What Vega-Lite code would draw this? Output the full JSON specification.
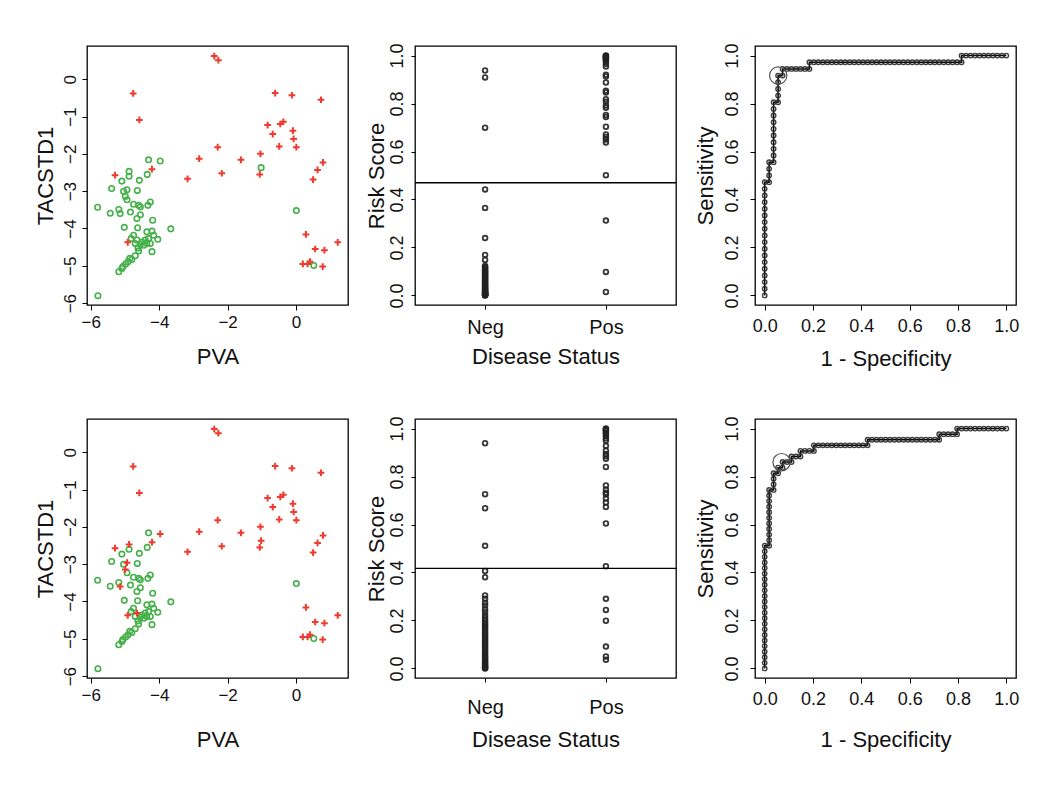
{
"$schema": "https://vega.github.io/schema/vega-lite/v6.json",
"background": "white",
"padding": {"left": 33, "top": 42, "right": 5, "bottom": 5},
"config": {
  "view": {"stroke": "black", "strokeWidth": 1.3},
  "font": "Liberation Sans",
  "axis": {"domain": false, "grid": false, "ticks": true, "tickColor": "black", "tickSize": 5, "tickWidth": 1, "labelFont": "Liberation Sans", "labelFontSize": 18, "labelColor": "#111", "labelFlush": false, "labelOverlap": false, "titleFont": "Liberation Sans", "titleFontSize": 22, "titleFontWeight": "normal", "titleColor": "#111"},
  "axisY": {"labelAngle": -90}
},
"datasets": {
  "pts": [
    {"pva": -2.39, "tac": 0.62, "c1": "Pos", "c2": "Pos"},
    {"pva": -2.27, "tac": 0.51, "c1": "Pos", "c2": "Pos"},
    {"pva": -4.76, "tac": -0.38, "c1": "Pos", "c2": "Pos"},
    {"pva": -4.58, "tac": -1.09, "c1": "Pos", "c2": "Pos"},
    {"pva": -0.61, "tac": -0.37, "c1": "Pos", "c2": "Pos"},
    {"pva": -0.12, "tac": -0.43, "c1": "Pos", "c2": "Pos"},
    {"pva": 0.73, "tac": -0.55, "c1": "Pos", "c2": "Pos"},
    {"pva": -0.83, "tac": -1.23, "c1": "Pos", "c2": "Pos"},
    {"pva": -0.68, "tac": -1.47, "c1": "Pos", "c2": "Pos"},
    {"pva": -0.46, "tac": -1.2, "c1": "Pos", "c2": "Pos"},
    {"pva": -0.37, "tac": -1.14, "c1": "Pos", "c2": "Pos"},
    {"pva": -0.09, "tac": -1.38, "c1": "Pos", "c2": "Pos"},
    {"pva": -0.07, "tac": -1.6, "c1": "Pos", "c2": "Pos"},
    {"pva": 0.01, "tac": -1.82, "c1": "Pos", "c2": "Pos"},
    {"pva": -0.49, "tac": -1.8, "c1": "Pos", "c2": "Pos"},
    {"pva": -2.29, "tac": -1.82, "c1": "Pos", "c2": "Pos"},
    {"pva": -1.04, "tac": -2.0, "c1": "Pos", "c2": "Pos"},
    {"pva": -1.61, "tac": -2.16, "c1": "Pos", "c2": "Pos"},
    {"pva": -2.83, "tac": -2.13, "c1": "Pos", "c2": "Pos"},
    {"pva": -2.17, "tac": -2.52, "c1": "Pos", "c2": "Pos"},
    {"pva": -3.17, "tac": -2.67, "c1": "Pos", "c2": "Pos"},
    {"pva": -1.06, "tac": -2.55, "c1": "Pos", "c2": "Pos"},
    {"pva": 0.79, "tac": -2.23, "c1": "Pos", "c2": "Pos"},
    {"pva": 0.63, "tac": -2.43, "c1": "Pos", "c2": "Pos"},
    {"pva": 0.5, "tac": -2.69, "c1": "Pos", "c2": "Pos"},
    {"pva": -4.21, "tac": -2.41, "c1": "Pos", "c2": "Pos"},
    {"pva": -5.29, "tac": -2.57, "c1": "Pos", "c2": "Pos"},
    {"pva": -4.92, "tac": -4.37, "c1": "Pos", "c2": "Pos"},
    {"pva": 0.29, "tac": -4.16, "c1": "Pos", "c2": "Pos"},
    {"pva": 0.56, "tac": -4.55, "c1": "Pos", "c2": "Pos"},
    {"pva": 0.83, "tac": -4.58, "c1": "Pos", "c2": "Pos"},
    {"pva": 1.22, "tac": -4.37, "c1": "Pos", "c2": "Pos"},
    {"pva": 0.2, "tac": -4.95, "c1": "Pos", "c2": "Pos"},
    {"pva": 0.34, "tac": -4.95, "c1": "Pos", "c2": "Pos"},
    {"pva": 0.41, "tac": -4.89, "c1": "Pos", "c2": "Pos"},
    {"pva": 0.78, "tac": -5.02, "c1": "Pos", "c2": "Pos"},
    {"pva": -1.02, "tac": -2.37, "c1": "Neg", "c2": "Pos"},
    {"pva": 0.01, "tac": -3.52, "c1": "Neg", "c2": "Neg"},
    {"pva": 0.52, "tac": -4.99, "c1": "Neg", "c2": "Neg"},
    {"pva": -4.31, "tac": -2.16, "c1": "Neg", "c2": "Neg"},
    {"pva": -3.97, "tac": -2.19, "c1": "Neg", "c2": "Pos"},
    {"pva": -4.88, "tac": -2.47, "c1": "Neg", "c2": "Pos"},
    {"pva": -4.88, "tac": -2.6, "c1": "Neg", "c2": "Neg"},
    {"pva": -4.35, "tac": -2.55, "c1": "Neg", "c2": "Neg"},
    {"pva": -4.58, "tac": -2.71, "c1": "Neg", "c2": "Neg"},
    {"pva": -5.09, "tac": -2.73, "c1": "Neg", "c2": "Neg"},
    {"pva": -5.39, "tac": -2.93, "c1": "Neg", "c2": "Neg"},
    {"pva": -4.94, "tac": -2.96, "c1": "Neg", "c2": "Pos"},
    {"pva": -5.04, "tac": -3.0, "c1": "Neg", "c2": "Neg"},
    {"pva": -4.64, "tac": -2.98, "c1": "Neg", "c2": "Neg"},
    {"pva": -4.99, "tac": -3.14, "c1": "Neg", "c2": "Pos"},
    {"pva": -4.94, "tac": -3.23, "c1": "Neg", "c2": "Neg"},
    {"pva": -5.8, "tac": -3.43, "c1": "Neg", "c2": "Neg"},
    {"pva": -5.43, "tac": -3.59, "c1": "Neg", "c2": "Neg"},
    {"pva": -5.18, "tac": -3.49, "c1": "Neg", "c2": "Neg"},
    {"pva": -5.14, "tac": -3.6, "c1": "Neg", "c2": "Pos"},
    {"pva": -4.84, "tac": -3.56, "c1": "Neg", "c2": "Neg"},
    {"pva": -4.75, "tac": -3.35, "c1": "Neg", "c2": "Neg"},
    {"pva": -4.6, "tac": -3.38, "c1": "Neg", "c2": "Neg"},
    {"pva": -4.55, "tac": -3.42, "c1": "Neg", "c2": "Neg"},
    {"pva": -4.33, "tac": -3.38, "c1": "Neg", "c2": "Neg"},
    {"pva": -4.26, "tac": -3.29, "c1": "Neg", "c2": "Neg"},
    {"pva": -4.55, "tac": -3.63, "c1": "Neg", "c2": "Neg"},
    {"pva": -4.65, "tac": -3.73, "c1": "Neg", "c2": "Neg"},
    {"pva": -5.02, "tac": -3.97, "c1": "Neg", "c2": "Neg"},
    {"pva": -4.63, "tac": -3.98, "c1": "Neg", "c2": "Neg"},
    {"pva": -4.19, "tac": -3.78, "c1": "Neg", "c2": "Neg"},
    {"pva": -3.66, "tac": -4.01, "c1": "Neg", "c2": "Neg"},
    {"pva": -4.21, "tac": -4.07, "c1": "Neg", "c2": "Neg"},
    {"pva": -4.36, "tac": -4.09, "c1": "Neg", "c2": "Neg"},
    {"pva": -4.75, "tac": -4.18, "c1": "Neg", "c2": "Neg"},
    {"pva": -4.82, "tac": -4.27, "c1": "Neg", "c2": "Neg"},
    {"pva": -4.65, "tac": -4.31, "c1": "Neg", "c2": "Pos"},
    {"pva": -4.5, "tac": -4.36, "c1": "Neg", "c2": "Neg"},
    {"pva": -4.41, "tac": -4.31, "c1": "Neg", "c2": "Neg"},
    {"pva": -4.31, "tac": -4.27, "c1": "Neg", "c2": "Neg"},
    {"pva": -4.16, "tac": -4.18, "c1": "Neg", "c2": "Neg"},
    {"pva": -4.04, "tac": -4.29, "c1": "Neg", "c2": "Neg"},
    {"pva": -4.26, "tac": -4.4, "c1": "Neg", "c2": "Neg"},
    {"pva": -4.55, "tac": -4.42, "c1": "Neg", "c2": "Neg"},
    {"pva": -4.7, "tac": -4.4, "c1": "Neg", "c2": "Neg"},
    {"pva": -4.21, "tac": -4.62, "c1": "Neg", "c2": "Neg"},
    {"pva": -4.6, "tac": -4.6, "c1": "Neg", "c2": "Neg"},
    {"pva": -4.7, "tac": -4.73, "c1": "Neg", "c2": "Neg"},
    {"pva": -4.8, "tac": -4.83, "c1": "Neg", "c2": "Neg"},
    {"pva": -4.91, "tac": -4.89, "c1": "Neg", "c2": "Neg"},
    {"pva": -5.06, "tac": -5.02, "c1": "Neg", "c2": "Neg"},
    {"pva": -5.09, "tac": -5.07, "c1": "Neg", "c2": "Neg"},
    {"pva": -5.18, "tac": -5.16, "c1": "Neg", "c2": "Neg"},
    {"pva": -5.79, "tac": -5.8, "c1": "Neg", "c2": "Neg"},
    {"pva": -4.98, "tac": -4.95, "c1": "Neg", "c2": "Neg"},
    {"pva": -4.86, "tac": -4.8, "c1": "Neg", "c2": "Neg"},
    {"pva": -4.62, "tac": -4.52, "c1": "Neg", "c2": "Neg"},
    {"pva": -4.45, "tac": -4.45, "c1": "Neg", "c2": "Neg"},
    {"pva": -4.36, "tac": -4.4, "c1": "Neg", "c2": "Neg"}
  ],
  "strip1": [
    {"status": "Neg", "score": 0.938}, {"status": "Neg", "score": 0.909}, {"status": "Neg", "score": 0.699}, {"status": "Neg", "score": 0.442},
    {"status": "Neg", "score": 0.365}, {"status": "Neg", "score": 0.239}, {"status": "Neg", "score": 0.169}, {"status": "Neg", "score": 0.148},
    {"status": "Neg", "score": 0.123}, {"status": "Neg", "score": 0.118}, {"status": "Neg", "score": 0.113}, {"status": "Neg", "score": 0.108},
    {"status": "Neg", "score": 0.104}, {"status": "Neg", "score": 0.1}, {"status": "Neg", "score": 0.096}, {"status": "Neg", "score": 0.092},
    {"status": "Neg", "score": 0.088}, {"status": "Neg", "score": 0.084}, {"status": "Neg", "score": 0.08}, {"status": "Neg", "score": 0.076},
    {"status": "Neg", "score": 0.072}, {"status": "Neg", "score": 0.068}, {"status": "Neg", "score": 0.064}, {"status": "Neg", "score": 0.06},
    {"status": "Neg", "score": 0.056}, {"status": "Neg", "score": 0.052}, {"status": "Neg", "score": 0.048}, {"status": "Neg", "score": 0.044},
    {"status": "Neg", "score": 0.04}, {"status": "Neg", "score": 0.036}, {"status": "Neg", "score": 0.032}, {"status": "Neg", "score": 0.028},
    {"status": "Neg", "score": 0.024}, {"status": "Neg", "score": 0.02}, {"status": "Neg", "score": 0.017}, {"status": "Neg", "score": 0.014},
    {"status": "Neg", "score": 0.011}, {"status": "Neg", "score": 0.008}, {"status": "Neg", "score": 0.006}, {"status": "Neg", "score": 0.004},
    {"status": "Neg", "score": 0.002}, {"status": "Neg", "score": 0.001}, {"status": "Neg", "score": 0.0}, {"status": "Neg", "score": 0.003},
    {"status": "Neg", "score": 0.005}, {"status": "Neg", "score": 0.01}, {"status": "Neg", "score": 0.015}, {"status": "Neg", "score": 0.03},
    {"status": "Pos", "score": 1.0}, {"status": "Pos", "score": 0.998}, {"status": "Pos", "score": 0.996}, {"status": "Pos", "score": 0.993},
    {"status": "Pos", "score": 0.99}, {"status": "Pos", "score": 0.986}, {"status": "Pos", "score": 0.983}, {"status": "Pos", "score": 0.976},
    {"status": "Pos", "score": 0.966}, {"status": "Pos", "score": 0.955}, {"status": "Pos", "score": 0.92}, {"status": "Pos", "score": 0.913},
    {"status": "Pos", "score": 0.888}, {"status": "Pos", "score": 0.853}, {"status": "Pos", "score": 0.846}, {"status": "Pos", "score": 0.818},
    {"status": "Pos", "score": 0.808}, {"status": "Pos", "score": 0.792}, {"status": "Pos", "score": 0.783}, {"status": "Pos", "score": 0.752},
    {"status": "Pos", "score": 0.744}, {"status": "Pos", "score": 0.703}, {"status": "Pos", "score": 0.671}, {"status": "Pos", "score": 0.661},
    {"status": "Pos", "score": 0.65}, {"status": "Pos", "score": 0.638}, {"status": "Pos", "score": 0.501}, {"status": "Pos", "score": 0.312},
    {"status": "Pos", "score": 0.098}, {"status": "Pos", "score": 0.014}
  ],
  "strip2": [
    {"status": "Neg", "score": 0.939}, {"status": "Neg", "score": 0.726}, {"status": "Neg", "score": 0.668}, {"status": "Neg", "score": 0.511},
    {"status": "Neg", "score": 0.406}, {"status": "Neg", "score": 0.38}, {"status": "Neg", "score": 0.304}, {"status": "Neg", "score": 0.29},
    {"status": "Neg", "score": 0.274}, {"status": "Neg", "score": 0.262}, {"status": "Neg", "score": 0.247}, {"status": "Neg", "score": 0.235},
    {"status": "Neg", "score": 0.222}, {"status": "Neg", "score": 0.21}, {"status": "Neg", "score": 0.2}, {"status": "Neg", "score": 0.19},
    {"status": "Neg", "score": 0.183}, {"status": "Neg", "score": 0.176}, {"status": "Neg", "score": 0.168}, {"status": "Neg", "score": 0.16},
    {"status": "Neg", "score": 0.152}, {"status": "Neg", "score": 0.145}, {"status": "Neg", "score": 0.138}, {"status": "Neg", "score": 0.13},
    {"status": "Neg", "score": 0.122}, {"status": "Neg", "score": 0.115}, {"status": "Neg", "score": 0.108}, {"status": "Neg", "score": 0.1},
    {"status": "Neg", "score": 0.093}, {"status": "Neg", "score": 0.086}, {"status": "Neg", "score": 0.079}, {"status": "Neg", "score": 0.072},
    {"status": "Neg", "score": 0.065}, {"status": "Neg", "score": 0.058}, {"status": "Neg", "score": 0.052}, {"status": "Neg", "score": 0.046},
    {"status": "Neg", "score": 0.04}, {"status": "Neg", "score": 0.034}, {"status": "Neg", "score": 0.028}, {"status": "Neg", "score": 0.023},
    {"status": "Neg", "score": 0.018}, {"status": "Neg", "score": 0.013}, {"status": "Neg", "score": 0.009}, {"status": "Neg", "score": 0.005},
    {"status": "Neg", "score": 0.002}, {"status": "Neg", "score": 0.0},
    {"status": "Pos", "score": 1.0}, {"status": "Pos", "score": 0.997}, {"status": "Pos", "score": 0.994}, {"status": "Pos", "score": 0.99},
    {"status": "Pos", "score": 0.983}, {"status": "Pos", "score": 0.977}, {"status": "Pos", "score": 0.97}, {"status": "Pos", "score": 0.96},
    {"status": "Pos", "score": 0.95}, {"status": "Pos", "score": 0.928}, {"status": "Pos", "score": 0.908}, {"status": "Pos", "score": 0.894},
    {"status": "Pos", "score": 0.885}, {"status": "Pos", "score": 0.874}, {"status": "Pos", "score": 0.84}, {"status": "Pos", "score": 0.763},
    {"status": "Pos", "score": 0.745}, {"status": "Pos", "score": 0.733}, {"status": "Pos", "score": 0.726}, {"status": "Pos", "score": 0.708},
    {"status": "Pos", "score": 0.692}, {"status": "Pos", "score": 0.673}, {"status": "Pos", "score": 0.604}, {"status": "Pos", "score": 0.426},
    {"status": "Pos", "score": 0.29}, {"status": "Pos", "score": 0.244}, {"status": "Pos", "score": 0.199}, {"status": "Pos", "score": 0.091},
    {"status": "Pos", "score": 0.05}, {"status": "Pos", "score": 0.036}
  ],
  "roc1": [
    {"i":0,"fpr":0,"tpr":0},{"i":1,"fpr":0,"tpr":0.0278},{"i":2,"fpr":0,"tpr":0.0556},{"i":3,"fpr":0,"tpr":0.0833},
    {"i":4,"fpr":0,"tpr":0.1111},{"i":5,"fpr":0,"tpr":0.1389},{"i":6,"fpr":0,"tpr":0.1667},{"i":7,"fpr":0,"tpr":0.1944},
    {"i":8,"fpr":0,"tpr":0.2222},{"i":9,"fpr":0,"tpr":0.25},{"i":10,"fpr":0,"tpr":0.2778},{"i":11,"fpr":0,"tpr":0.3056},
    {"i":12,"fpr":0,"tpr":0.3333},{"i":13,"fpr":0,"tpr":0.3611},{"i":14,"fpr":0,"tpr":0.3889},{"i":15,"fpr":0,"tpr":0.4167},
    {"i":16,"fpr":0,"tpr":0.4444},{"i":17,"fpr":0,"tpr":0.4722},{"i":18,"fpr":0.0185,"tpr":0.4722},{"i":19,"fpr":0.0185,"tpr":0.5},
    {"i":20,"fpr":0.0185,"tpr":0.5278},{"i":21,"fpr":0.0185,"tpr":0.5556},{"i":22,"fpr":0.037,"tpr":0.5556},{"i":23,"fpr":0.037,"tpr":0.5833},
    {"i":24,"fpr":0.037,"tpr":0.6111},{"i":25,"fpr":0.037,"tpr":0.6389},{"i":26,"fpr":0.037,"tpr":0.6667},{"i":27,"fpr":0.037,"tpr":0.6944},
    {"i":28,"fpr":0.037,"tpr":0.7222},{"i":29,"fpr":0.037,"tpr":0.75},{"i":30,"fpr":0.037,"tpr":0.7778},{"i":31,"fpr":0.037,"tpr":0.8056},
    {"i":32,"fpr":0.0556,"tpr":0.8056},{"i":33,"fpr":0.0556,"tpr":0.8333},{"i":34,"fpr":0.0556,"tpr":0.8611},{"i":35,"fpr":0.0556,"tpr":0.8889},
    {"i":36,"fpr":0.0556,"tpr":0.9167},{"i":37,"fpr":0.0741,"tpr":0.9167},{"i":38,"fpr":0.0741,"tpr":0.9444},{"i":39,"fpr":0.0926,"tpr":0.9444},
    {"i":40,"fpr":0.1111,"tpr":0.9444},{"i":41,"fpr":0.1296,"tpr":0.9444},{"i":42,"fpr":0.1481,"tpr":0.9444},{"i":43,"fpr":0.1667,"tpr":0.9444},
    {"i":44,"fpr":0.1852,"tpr":0.9444},{"i":45,"fpr":0.1852,"tpr":0.9722},{"i":46,"fpr":0.2037,"tpr":0.9722},{"i":47,"fpr":0.2222,"tpr":0.9722},
    {"i":48,"fpr":0.2407,"tpr":0.9722},{"i":49,"fpr":0.2593,"tpr":0.9722},{"i":50,"fpr":0.2778,"tpr":0.9722},{"i":51,"fpr":0.2963,"tpr":0.9722},
    {"i":52,"fpr":0.3148,"tpr":0.9722},{"i":53,"fpr":0.3333,"tpr":0.9722},{"i":54,"fpr":0.3519,"tpr":0.9722},{"i":55,"fpr":0.3704,"tpr":0.9722},
    {"i":56,"fpr":0.3889,"tpr":0.9722},{"i":57,"fpr":0.4074,"tpr":0.9722},{"i":58,"fpr":0.4259,"tpr":0.9722},{"i":59,"fpr":0.4444,"tpr":0.9722},
    {"i":60,"fpr":0.463,"tpr":0.9722},{"i":61,"fpr":0.4815,"tpr":0.9722},{"i":62,"fpr":0.5,"tpr":0.9722},{"i":63,"fpr":0.5185,"tpr":0.9722},
    {"i":64,"fpr":0.537,"tpr":0.9722},{"i":65,"fpr":0.5556,"tpr":0.9722},{"i":66,"fpr":0.5741,"tpr":0.9722},{"i":67,"fpr":0.5926,"tpr":0.9722},
    {"i":68,"fpr":0.6111,"tpr":0.9722},{"i":69,"fpr":0.6296,"tpr":0.9722},{"i":70,"fpr":0.6481,"tpr":0.9722},{"i":71,"fpr":0.6667,"tpr":0.9722},
    {"i":72,"fpr":0.6852,"tpr":0.9722},{"i":73,"fpr":0.7037,"tpr":0.9722},{"i":74,"fpr":0.7222,"tpr":0.9722},{"i":75,"fpr":0.7407,"tpr":0.9722},
    {"i":76,"fpr":0.7593,"tpr":0.9722},{"i":77,"fpr":0.7778,"tpr":0.9722},{"i":78,"fpr":0.7963,"tpr":0.9722},{"i":79,"fpr":0.8148,"tpr":0.9722},
    {"i":80,"fpr":0.8148,"tpr":1},{"i":81,"fpr":0.8333,"tpr":1},{"i":82,"fpr":0.8519,"tpr":1},{"i":83,"fpr":0.8704,"tpr":1},
    {"i":84,"fpr":0.8889,"tpr":1},{"i":85,"fpr":0.9074,"tpr":1},{"i":86,"fpr":0.9259,"tpr":1},{"i":87,"fpr":0.9444,"tpr":1},
    {"i":88,"fpr":0.963,"tpr":1},{"i":89,"fpr":0.9815,"tpr":1},{"i":90,"fpr":1,"tpr":1}
  ],
  "roc2": [
    {"i":0,"fpr":0,"tpr":0},{"i":1,"fpr":0,"tpr":0.0233},{"i":2,"fpr":0,"tpr":0.0465},{"i":3,"fpr":0,"tpr":0.0698},
    {"i":4,"fpr":0,"tpr":0.093},{"i":5,"fpr":0,"tpr":0.1163},{"i":6,"fpr":0,"tpr":0.1395},{"i":7,"fpr":0,"tpr":0.1628},
    {"i":8,"fpr":0,"tpr":0.186},{"i":9,"fpr":0,"tpr":0.2093},{"i":10,"fpr":0,"tpr":0.2326},{"i":11,"fpr":0,"tpr":0.2558},
    {"i":12,"fpr":0,"tpr":0.2791},{"i":13,"fpr":0,"tpr":0.3023},{"i":14,"fpr":0,"tpr":0.3256},{"i":15,"fpr":0,"tpr":0.3488},
    {"i":16,"fpr":0,"tpr":0.3721},{"i":17,"fpr":0,"tpr":0.3953},{"i":18,"fpr":0,"tpr":0.4186},{"i":19,"fpr":0,"tpr":0.4419},
    {"i":20,"fpr":0,"tpr":0.4651},{"i":21,"fpr":0,"tpr":0.4884},{"i":22,"fpr":0,"tpr":0.5116},{"i":23,"fpr":0.0185,"tpr":0.5116},
    {"i":24,"fpr":0.0185,"tpr":0.5349},{"i":25,"fpr":0.0185,"tpr":0.5581},{"i":26,"fpr":0.0185,"tpr":0.5814},{"i":27,"fpr":0.0185,"tpr":0.6047},
    {"i":28,"fpr":0.0185,"tpr":0.6279},{"i":29,"fpr":0.0185,"tpr":0.6512},{"i":30,"fpr":0.0185,"tpr":0.6744},{"i":31,"fpr":0.0185,"tpr":0.6977},
    {"i":32,"fpr":0.0185,"tpr":0.7209},{"i":33,"fpr":0.0185,"tpr":0.7442},{"i":34,"fpr":0.037,"tpr":0.7442},{"i":35,"fpr":0.037,"tpr":0.7674},
    {"i":36,"fpr":0.037,"tpr":0.7907},{"i":37,"fpr":0.037,"tpr":0.814},{"i":38,"fpr":0.0556,"tpr":0.814},{"i":39,"fpr":0.0556,"tpr":0.8372},
    {"i":40,"fpr":0.0741,"tpr":0.8372},{"i":41,"fpr":0.0741,"tpr":0.8605},{"i":42,"fpr":0.0926,"tpr":0.8605},{"i":43,"fpr":0.1111,"tpr":0.8605},
    {"i":44,"fpr":0.1111,"tpr":0.8837},{"i":45,"fpr":0.1296,"tpr":0.8837},{"i":46,"fpr":0.1481,"tpr":0.8837},{"i":47,"fpr":0.1481,"tpr":0.907},
    {"i":48,"fpr":0.1667,"tpr":0.907},{"i":49,"fpr":0.1852,"tpr":0.907},{"i":50,"fpr":0.2037,"tpr":0.907},{"i":51,"fpr":0.2037,"tpr":0.9302},
    {"i":52,"fpr":0.2222,"tpr":0.9302},{"i":53,"fpr":0.2407,"tpr":0.9302},{"i":54,"fpr":0.2593,"tpr":0.9302},{"i":55,"fpr":0.2778,"tpr":0.9302},
    {"i":56,"fpr":0.2963,"tpr":0.9302},{"i":57,"fpr":0.3148,"tpr":0.9302},{"i":58,"fpr":0.3333,"tpr":0.9302},{"i":59,"fpr":0.3519,"tpr":0.9302},
    {"i":60,"fpr":0.3704,"tpr":0.9302},{"i":61,"fpr":0.3889,"tpr":0.9302},{"i":62,"fpr":0.4074,"tpr":0.9302},{"i":63,"fpr":0.4259,"tpr":0.9302},
    {"i":64,"fpr":0.4259,"tpr":0.9535},{"i":65,"fpr":0.4444,"tpr":0.9535},{"i":66,"fpr":0.463,"tpr":0.9535},{"i":67,"fpr":0.4815,"tpr":0.9535},
    {"i":68,"fpr":0.5,"tpr":0.9535},{"i":69,"fpr":0.5185,"tpr":0.9535},{"i":70,"fpr":0.537,"tpr":0.9535},{"i":71,"fpr":0.5556,"tpr":0.9535},
    {"i":72,"fpr":0.5741,"tpr":0.9535},{"i":73,"fpr":0.5926,"tpr":0.9535},{"i":74,"fpr":0.6111,"tpr":0.9535},{"i":75,"fpr":0.6296,"tpr":0.9535},
    {"i":76,"fpr":0.6481,"tpr":0.9535},{"i":77,"fpr":0.6667,"tpr":0.9535},{"i":78,"fpr":0.6852,"tpr":0.9535},{"i":79,"fpr":0.7037,"tpr":0.9535},
    {"i":80,"fpr":0.7222,"tpr":0.9535},{"i":81,"fpr":0.7222,"tpr":0.9767},{"i":82,"fpr":0.7407,"tpr":0.9767},{"i":83,"fpr":0.7593,"tpr":0.9767},
    {"i":84,"fpr":0.7778,"tpr":0.9767},{"i":85,"fpr":0.7963,"tpr":0.9767},{"i":86,"fpr":0.7963,"tpr":1},{"i":87,"fpr":0.8148,"tpr":1},
    {"i":88,"fpr":0.8333,"tpr":1},{"i":89,"fpr":0.8519,"tpr":1},{"i":90,"fpr":0.8704,"tpr":1},{"i":91,"fpr":0.8889,"tpr":1},
    {"i":92,"fpr":0.9074,"tpr":1},{"i":93,"fpr":0.9259,"tpr":1},{"i":94,"fpr":0.9444,"tpr":1},{"i":95,"fpr":0.963,"tpr":1},
    {"i":96,"fpr":0.9815,"tpr":1},{"i":97,"fpr":1,"tpr":1}
  ]
},
"columns": 3,
"spacing": {"row": 45, "column": 15},
"concat": [
  {
    "width": 261, "height": 259,
    "data": {"name": "pts"},
    "encoding": {
      "x": {"field": "pva", "type": "quantitative", "scale": {"domain": [-6.11, 1.52], "nice": false, "zero": false}, "axis": {"values": [-6, -4, -2, 0], "title": "PVA", "labelFontSize": 17, "labelPadding": 4, "titlePadding": 16}},
      "y": {"field": "tac", "type": "quantitative", "scale": {"domain": [-6.05, 0.89], "nice": false, "zero": false}, "axis": {"values": [-6, -5, -4, -3, -2, -1, 0], "title": "TACSTD1", "labelFontSize": 17, "labelPadding": 3, "titlePadding": 4}}
    },
    "layer": [
      {"transform": [{"filter": "datum.c1 === 'Neg'"}], "mark": {"type": "point", "shape": "circle", "filled": false, "color": "#45b04a", "strokeWidth": 1.6, "size": 30, "opacity": 1}},
      {"transform": [{"filter": "datum.c1 === 'Pos'"}], "mark": {"type": "point", "shape": "M-1,0L1,0M0,-1L0,1", "filled": false, "color": "#ef3a2d", "strokeWidth": 2, "size": 45, "opacity": 1}}
    ]
  },
  {
    "width": 261, "height": 259,
    "layer": [
      {"data": {"name": "strip1"}, "mark": {"type": "point", "shape": "circle", "filled": false, "color": "#222", "strokeWidth": 1.8, "size": 22, "opacity": 0.9},
       "encoding": {
         "x": {"field": "status", "type": "nominal", "sort": ["Neg", "Pos"], "scale": {"type": "point", "padding": 0.58}, "axis": {"labelAngle": 0, "title": "Disease Status", "tickSize": 4, "labelFontSize": 20, "labelPadding": 8, "titlePadding": 9}},
         "y": {"field": "score", "type": "quantitative", "scale": {"domain": [-0.04, 1.04], "nice": false, "zero": false}, "axis": {"values": [0, 0.2, 0.4, 0.6, 0.8, 1], "format": ".1f", "title": "Risk Score", "tickSize": 4, "labelPadding": 5, "titlePadding": 0}}
       }},
      {"data": {"values": [{"score": 0.47}]}, "mark": {"type": "rule", "color": "black", "strokeWidth": 1.4}, "encoding": {"y": {"field": "score", "type": "quantitative"}}}
    ]
  },
  {
    "width": 261, "height": 259,
    "encoding": {
      "x": {"field": "fpr", "type": "quantitative", "scale": {"domain": [-0.04, 1.04], "nice": false, "zero": false}, "axis": {"values": [0, 0.2, 0.4, 0.6, 0.8, 1], "format": ".1f", "title": "1 - Specificity", "labelPadding": 7, "titlePadding": 13}},
      "y": {"field": "tpr", "type": "quantitative", "scale": {"domain": [-0.04, 1.04], "nice": false, "zero": false}, "axis": {"values": [0, 0.2, 0.4, 0.6, 0.8, 1], "format": ".1f", "title": "Sensitivity", "labelPadding": 9, "titlePadding": 6}}
    },
    "layer": [
      {"data": {"name": "roc1"}, "mark": {"type": "line", "color": "black", "strokeWidth": 1.5}, "encoding": {"order": {"field": "i", "type": "quantitative"}}},
      {"data": {"name": "roc1"}, "mark": {"type": "point", "shape": "circle", "filled": false, "color": "#2a2a2a", "strokeWidth": 1.4, "size": 20, "opacity": 0.9}},
      {"data": {"values": [{"fpr": 0.056, "tpr": 0.917}]}, "mark": {"type": "point", "shape": "circle", "filled": false, "color": "#555", "strokeWidth": 1.2, "size": 300, "opacity": 1}}
    ]
  },
  {
    "width": 261, "height": 259,
    "data": {"name": "pts"},
    "encoding": {
      "x": {"field": "pva", "type": "quantitative", "scale": {"domain": [-6.11, 1.52], "nice": false, "zero": false}, "axis": {"values": [-6, -4, -2, 0], "title": "PVA", "labelFontSize": 17, "labelPadding": 4, "titlePadding": 26}},
      "y": {"field": "tac", "type": "quantitative", "scale": {"domain": [-6.05, 0.89], "nice": false, "zero": false}, "axis": {"values": [-6, -5, -4, -3, -2, -1, 0], "title": "TACSTD1", "labelFontSize": 17, "labelPadding": 3, "titlePadding": 4}}
    },
    "layer": [
      {"transform": [{"filter": "datum.c2 === 'Neg'"}], "mark": {"type": "point", "shape": "circle", "filled": false, "color": "#45b04a", "strokeWidth": 1.6, "size": 30, "opacity": 1}},
      {"transform": [{"filter": "datum.c2 === 'Pos'"}], "mark": {"type": "point", "shape": "M-1,0L1,0M0,-1L0,1", "filled": false, "color": "#ef3a2d", "strokeWidth": 2, "size": 45, "opacity": 1}}
    ]
  },
  {
    "width": 261, "height": 259,
    "layer": [
      {"data": {"name": "strip2"}, "mark": {"type": "point", "shape": "circle", "filled": false, "color": "#222", "strokeWidth": 1.8, "size": 22, "opacity": 0.9},
       "encoding": {
         "x": {"field": "status", "type": "nominal", "sort": ["Neg", "Pos"], "scale": {"type": "point", "padding": 0.58}, "axis": {"labelAngle": 0, "title": "Disease Status", "tickSize": 4, "labelFontSize": 20, "labelPadding": 15, "titlePadding": 12}},
         "y": {"field": "score", "type": "quantitative", "scale": {"domain": [-0.04, 1.04], "nice": false, "zero": false}, "axis": {"values": [0, 0.2, 0.4, 0.6, 0.8, 1], "format": ".1f", "title": "Risk Score", "tickSize": 4, "labelPadding": 5, "titlePadding": 0}}
       }},
      {"data": {"values": [{"score": 0.417}]}, "mark": {"type": "rule", "color": "black", "strokeWidth": 1.4}, "encoding": {"y": {"field": "score", "type": "quantitative"}}}
    ]
  },
  {
    "width": 261, "height": 259,
    "encoding": {
      "x": {"field": "fpr", "type": "quantitative", "scale": {"domain": [-0.04, 1.04], "nice": false, "zero": false}, "axis": {"values": [0, 0.2, 0.4, 0.6, 0.8, 1], "format": ".1f", "title": "1 - Specificity", "labelPadding": 7, "titlePadding": 21}},
      "y": {"field": "tpr", "type": "quantitative", "scale": {"domain": [-0.04, 1.04], "nice": false, "zero": false}, "axis": {"values": [0, 0.2, 0.4, 0.6, 0.8, 1], "format": ".1f", "title": "Sensitivity", "labelPadding": 9, "titlePadding": 6}}
    },
    "layer": [
      {"data": {"name": "roc2"}, "mark": {"type": "line", "color": "black", "strokeWidth": 1.5}, "encoding": {"order": {"field": "i", "type": "quantitative"}}},
      {"data": {"name": "roc2"}, "mark": {"type": "point", "shape": "circle", "filled": false, "color": "#2a2a2a", "strokeWidth": 1.4, "size": 20, "opacity": 0.9}},
      {"data": {"values": [{"fpr": 0.07, "tpr": 0.86}]}, "mark": {"type": "point", "shape": "circle", "filled": false, "color": "#555", "strokeWidth": 1.2, "size": 300, "opacity": 1}}
    ]
  }
]
}
